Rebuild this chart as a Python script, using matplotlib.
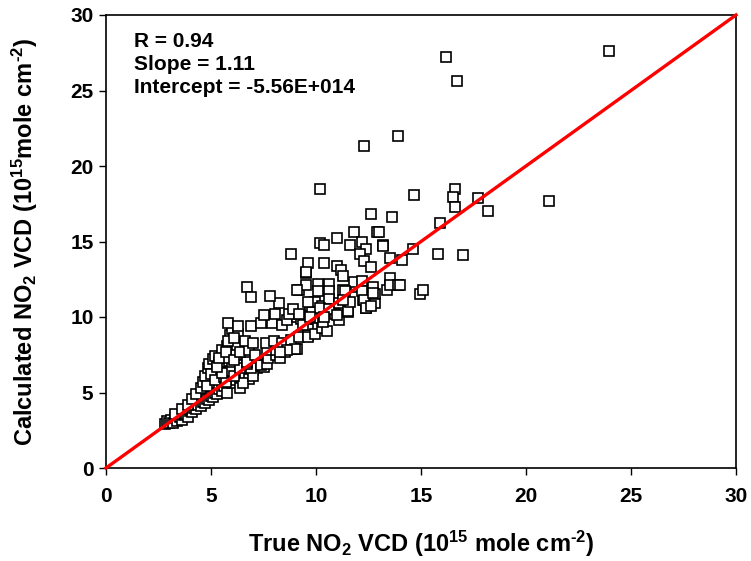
import matplotlib
matplotlib.use("Agg")
import matplotlib.pyplot as plt

# true vs calculated NO2 VCD (1e15 molec cm-2)
true_vcd = [
    # low band
    2.8, 2.9, 3.0, 3.1, 3.2, 3.3, 3.4, 3.5, 3.6, 3.7, 3.8, 3.9, 4.0, 4.1, 4.2, 4.3,
    4.4, 4.5, 4.6, 4.7, 4.8, 4.9, 5.0, 5.1, 5.2, 5.3, 5.4, 5.5, 5.6, 5.75, 6.0, 6.2,
    6.4, 6.4, 6.6, 6.8, 7.0, 7.2, 6.5, 7.0, 7.5, 7.3, 6.9,
    # upper part of the low band
    3.3, 3.6, 3.9, 4.1, 4.3, 4.5, 4.6, 4.7, 4.85, 4.9, 5.1, 5.2, 5.3, 5.4, 5.5, 5.6,
    5.75, 5.0, 4.8, 5.2, 5.6, 5.9, 6.0, 5.8, 6.2, 5.7, 6.1, 6.4, 6.7, 5.5, 5.3, 5.4,
    5.7, 6.1, 6.7, 7.4, 7.65, 7.7, 8.1, 8.3, 8.9, 5.9, 6.0, 5.8, 6.3,
    # middle
    6.4, 6.8, 7.1, 7.65, 8.1, 8.5, 8.8, 9.1, 6.1, 6.6, 7.0, 7.6, 8.0, 8.4, 8.8, 9.2,
    9.6, 5.8, 6.3, 6.9, 7.4, 7.9, 8.4, 8.6, 9.1, 7.5, 8.05, 8.7, 8.25, 6.7, 6.9, 7.8,
    9.2, 9.5, 9.5, 10.1, 10.6, 9.7, 9.95, 10.3, 9.6, 10.0, 10.1, 9.6, 9.95, 9.0, 8.6, 8.3,
    10.3, 10.5, 10.35, 9.3, 9.4, 9.8, 11.1, 11.5, 10.9, 10.7, 12.4, 12.8, 12.25, 13.4,
    # upper middle
    8.8, 11.8, 12.9, 11.0, 10.2, 10.4, 11.6, 12.2, 12.4, 13.2, 12.1, 12.3, 12.6, 13.5, 14.1, 14.6,
    9.6, 9.5, 10.4, 11.0, 11.2, 11.3, 13.5, 13.5, 13.9, 9.1, 10.1, 10.6, 10.6, 11.3, 11.9, 11.8,
    12.2, 12.7, 12.8, 12.2, 12.3, 12.4, 9.6, 10.2, 10.6, 11.1, 11.5, 11.6, 8.9, 9.2, 9.7, 11.0,
    10.4, 12.6, 12.7, 11.4, 11.3,
    # high values
    23.95, 16.2, 16.7, 13.9, 12.3, 10.2, 14.65, 16.6, 16.5, 16.6, 17.7, 18.2, 21.1, 12.6, 13.6, 15.9,
    13.0, 13.2, 15.8, 17.0, 14.0, 14.95, 15.1,
]
calc_vcd = [
    2.9, 3.1, 2.95, 3.2, 3.0, 3.3, 3.1, 3.4, 3.2, 3.5, 3.6, 3.4, 3.8, 3.7, 4.0, 3.9,
    4.2, 4.1, 4.4, 4.3, 4.6, 4.5, 4.8, 4.7, 5.0, 4.9, 5.2, 5.1, 5.4, 4.95, 5.6, 5.8,
    5.3, 6.0, 6.2, 5.9, 6.5, 6.6, 5.6, 6.1, 6.7, 7.0, 6.6,
    3.6, 3.9, 4.2, 4.6, 4.9, 5.3, 5.7, 6.1, 6.6, 6.9, 7.2, 7.4, 6.6, 7.0, 7.8, 6.3,
    8.1, 6.2, 5.4, 5.8, 6.0, 6.4, 7.0, 7.3, 7.5, 5.7, 6.1, 6.6, 6.9, 6.3, 6.7, 7.3,
    7.7, 7.15, 7.0, 6.8, 6.9, 7.3, 7.5, 7.3, 7.9, 8.8, 9.2, 8.4, 8.9,
    7.7, 7.8, 7.5, 7.8, 7.8, 7.7, 7.9, 7.9, 8.6, 8.4, 8.25, 8.25, 8.4, 8.25, 8.5, 8.7,
    8.8, 9.6, 9.4, 9.4, 9.6, 9.6, 9.5, 9.8, 10.0, 10.1, 10.2, 10.2, 10.9, 12.0, 11.3, 11.4,
    11.8, 12.1, 12.9, 12.2, 12.2, 10.7, 11.0, 10.7, 9.9, 9.9, 9.25, 8.7, 8.9, 7.9, 7.8, 7.7,
    9.25, 9.1, 9.7, 9.9, 9.5, 10.35, 9.8, 10.35, 10.2, 10.5, 10.6, 10.9, 11.1, 11.8,
    14.2, 15.6, 15.6, 15.2, 14.9, 14.8, 14.8, 15.0, 14.5, 14.8, 14.2, 13.7, 13.3, 13.9, 13.8, 14.5,
    13.6, 13.0, 13.6, 13.4, 13.1, 12.7, 12.6, 12.1, 12.1, 11.8, 11.7, 11.7, 11.2, 11.8, 12.0, 12.3,
    12.4, 12.0, 11.5, 11.7, 11.1, 10.6, 11.0, 10.6, 10.5, 10.9, 10.4, 11.0, 10.5, 10.2, 10.0, 10.1,
    10.0, 10.7, 11.6, 11.7, 11.1,
    27.6, 27.2, 25.6, 22.0, 21.3, 18.5, 18.1, 18.5, 17.95, 17.3, 17.9, 17.0, 17.7, 16.8, 16.6, 16.2,
    15.6, 14.7, 14.2, 14.1, 12.1, 11.5, 11.8,
]

# 1:1 reference line
line_x = [0, 30]
line_y = [0, 30]

stats_text = "R = 0.94\nSlope = 1.11\nIntercept = -5.56E+014"
ticks = [0, 5, 10, 15, 20, 25, 30]

plt.rcParams['font.family'] = ['Liberation Sans', 'DejaVu Sans']
plt.rcParams['font.weight'] = 'bold'
plt.rcParams['mathtext.fontset'] = 'custom'
plt.rcParams['mathtext.rm'] = 'Liberation Sans:bold'
plt.rcParams['mathtext.bf'] = 'Liberation Sans:bold'
plt.rcParams['mathtext.default'] = 'bf'

fig = plt.figure(figsize=(7.51, 5.61), dpi=100)
ax = fig.add_axes([106 / 751, 1 - 468 / 561, 630 / 751, 453 / 561])

ax.plot(true_vcd, calc_vcd, linestyle='none', marker='s', markersize=7.2,
        markerfacecolor='white', markeredgecolor='black', markeredgewidth=1.2, zorder=2)
ax.plot(line_x, line_y, color='red', linewidth=2.4, zorder=3, clip_on=False)

ax.set_xlim(0, 30)
ax.set_ylim(0, 30)
ax.set_xticks(ticks)
ax.set_yticks(ticks)
ax.tick_params(direction='out', length=5, width=1, labelsize=15, pad=9)
ax.tick_params(axis='y', pad=4)
for lab in ax.get_xticklabels() + ax.get_yticklabels():
    lab.set_fontweight('bold')
for sp in ax.spines.values():
    sp.set_linewidth(1.2)

ax.set_xlabel(r"True NO$_2$ VCD (10$^{15}$ mole cm$^{\text{-}2}$)", fontsize=17,
              fontweight='bold', labelpad=16)
ax.set_ylabel(r"Calculated NO$_2$ VCD (10$^{15}$mole cm$^{\text{-}2}$)", fontsize=17,
              fontweight='bold', labelpad=22)

ax.text(0.045, 0.962, stats_text, transform=ax.transAxes, ha='left', va='top',
        fontsize=15, fontweight='bold', linespacing=1.25)

fig.savefig("out.png", dpi=100)
